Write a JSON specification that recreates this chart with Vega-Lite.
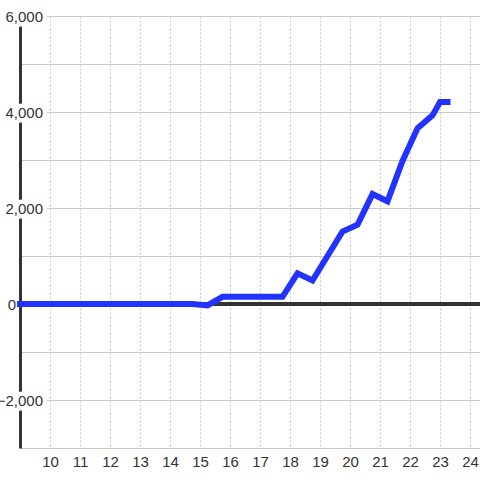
{
  "$schema": "https://vega.github.io/schema/vega-lite/v6.json",
  "width": 460,
  "height": 432,
  "autosize": {"type": "none"},
  "padding": {"left": 20, "top": 16, "right": 0, "bottom": 32},
  "background": "white",
  "config": {
    "view": {"stroke": null},
    "font": "Liberation Sans",
    "axisX": {
      "title": null, "ticks": false, "domain": false,
      "labelOverlap": false, "labelFlush": false, "labelBound": false,
      "labelFontSize": 15, "labelColor": "#333333", "labelPadding": 6,
      "grid": true, "gridColor": "#c8c8c8", "gridDash": [2, 2], "gridWidth": 1
    },
    "axisY": {
      "title": null, "ticks": false, "labels": false,
      "domain": true, "domainColor": "#333333", "domainWidth": 3,
      "grid": true, "gridColor": "#c8c8c8", "gridWidth": 1
    }
  },
  "datasets": {
    "series": [
      {"x": 9, "y": 0}, {"x": 9.5, "y": 0}, {"x": 10, "y": 0}, {"x": 10.5, "y": 0},
      {"x": 11, "y": 0}, {"x": 11.5, "y": 0}, {"x": 12, "y": 0}, {"x": 12.5, "y": 0},
      {"x": 13, "y": 0}, {"x": 13.5, "y": 0}, {"x": 14, "y": 0}, {"x": 14.5, "y": 0},
      {"x": 14.75, "y": 0}, {"x": 15.25, "y": -30}, {"x": 15.75, "y": 150},
      {"x": 16.25, "y": 150}, {"x": 16.75, "y": 150}, {"x": 17.25, "y": 150},
      {"x": 17.75, "y": 150}, {"x": 18.25, "y": 640}, {"x": 18.75, "y": 490},
      {"x": 19.25, "y": 1000}, {"x": 19.75, "y": 1510}, {"x": 20.25, "y": 1650},
      {"x": 20.75, "y": 2290}, {"x": 21.25, "y": 2140}, {"x": 21.75, "y": 2980},
      {"x": 22.25, "y": 3660}, {"x": 22.75, "y": 3930}, {"x": 23.0, "y": 4210},
      {"x": 23.25, "y": 4210}
    ],
    "ylabels": [{"v": -2000}, {"v": 2000}, {"v": 4000}, {"v": 6000}],
    "zerolabel": [{"v": 0}]
  },
  "encoding": {
    "x": {
      "type": "quantitative",
      "scale": {"domain": [9, 24.3333], "nice": false, "zero": false},
      "axis": {"values": [10, 11, 12, 13, 14, 15, 16, 17, 18, 19, 20, 21, 22, 23, 24], "labelOverlap": false}
    },
    "y": {
      "type": "quantitative",
      "scale": {"domain": [-3000, 6000], "nice": false},
      "axis": {"values": [-3000, -2000, -1000, 0, 1000, 2000, 3000, 4000, 5000, 6000]}
    }
  },
  "layer": [
    {
      "data": {"name": "series"},
      "mark": {"type": "rule", "color": "#333333", "strokeWidth": 3},
      "encoding": {"x": null, "y": {"datum": 0, "type": "quantitative"}}
    },
    {
      "data": {"name": "ylabels"},
      "mark": {"type": "text", "align": "right", "baseline": "middle", "dx": 23, "dy": 1, "fontSize": 15, "fill": "white", "stroke": "white", "strokeWidth": 9, "strokeJoin": "round"},
      "encoding": {
        "x": {"datum": 9, "type": "quantitative"},
        "y": {"field": "v", "type": "quantitative"},
        "text": {"field": "v", "type": "quantitative", "format": ","}
      }
    },
    {
      "data": {"name": "ylabels"},
      "mark": {"type": "text", "align": "right", "baseline": "middle", "dx": 23, "dy": 1, "fontSize": 15, "color": "#333333"},
      "encoding": {
        "x": {"datum": 9, "type": "quantitative"},
        "y": {"field": "v", "type": "quantitative"},
        "text": {"field": "v", "type": "quantitative", "format": ","}
      }
    },
    {
      "data": {"name": "zerolabel"},
      "mark": {"type": "text", "align": "right", "baseline": "middle", "dx": -4, "dy": 1, "fontSize": 15, "color": "#333333"},
      "encoding": {
        "x": {"datum": 9, "type": "quantitative"},
        "y": {"field": "v", "type": "quantitative"},
        "text": {"field": "v", "type": "quantitative", "format": ","}
      }
    },
    {
      "data": {"name": "series"},
      "mark": {"type": "line", "color": "#2233ff", "strokeWidth": 6, "strokeCap": "square", "strokeJoin": "miter"},
      "encoding": {
        "x": {"field": "x", "type": "quantitative"},
        "y": {"field": "y", "type": "quantitative"}
      }
    }
  ]
}
